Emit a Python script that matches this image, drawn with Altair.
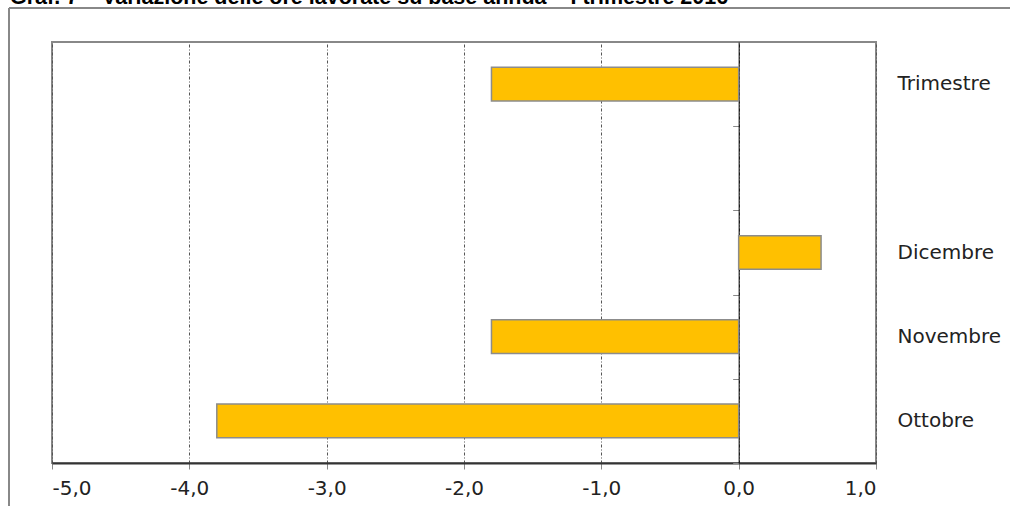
import altair as alt
import pandas as pd

# Data
categories = ["Trimestre", "Dicembre", "Novembre", "Ottobre"]
values = [-1.8, 0.6, -1.8, -3.8]
y_domain = ["Trimestre", " ", "Dicembre", "Novembre", "Ottobre"]
x_ticks = [-5, -4, -3, -2, -1, 0, 1]
title_text = "Graf. 7 \u2013 Variazione delle ore lavorate su base annua \u2013 I trimestre 2016"

df = pd.DataFrame({"cat": categories, "value": values})

W, H = 824, 421
XMIN, XMAX = -5, 1
P_INNER = 0.6
LABEL_FONT = "DejaVu Sans"

x_scale = alt.Scale(domain=[XMIN, XMAX], nice=False, zero=False)
y_scale = alt.Scale(domain=y_domain, paddingInner=P_INNER, paddingOuter=P_INNER / 2)

x_axis = alt.Axis(
    values=x_ticks,
    title=None,
    labelExpr="replace(replace(format(datum.value, '.1f'), '.', ','), '\u2212', '-')",
    labelFont=LABEL_FONT,
    labelFontSize=20,
    labelColor="#222222",
    labelPadding=9,
    domainColor="#333333",
    domainWidth=2,
    tickColor="#888888",
    tickSize=6,
    grid=True,
    gridColor="#555555",
    gridDash=[3, 2, 1, 2],
    gridWidth=1,
)

right_axis = alt.Axis(
    orient="right",
    title=None,
    ticks=False,
    domain=False,
    labelFont=LABEL_FONT,
    labelFontSize=20,
    labelColor="#222222",
    labelPadding=21,
    labelAlign="left",
)

step = H / len(y_domain)
zero_offset = -W * (0 - XMIN) / (XMAX - XMIN)
zero_axis = alt.Axis(
    orient="left",
    title=None,
    labels=False,
    offset=zero_offset,
    domainColor="#000000",
    domainWidth=1,
    tickColor="#888888",
    tickSize=6,
    tickOffset=step / 2,
    grid=False,
)

bars = alt.Chart(df).mark_bar(
    color="#FFC000", stroke="#8C8C8C", strokeWidth=1.5
).encode(
    x=alt.X("value:Q", scale=x_scale, axis=x_axis),
    y=alt.Y("cat:N", scale=y_scale, axis=right_axis, sort=y_domain),
)

zero_layer = alt.Chart(df).mark_point(opacity=0).encode(
    y=alt.Y("cat:N", scale=y_scale, axis=zero_axis, sort=y_domain),
)

frame_df = pd.DataFrame({"a": [0]})
frame_top = alt.Chart(frame_df).mark_rule(color="#888888", strokeWidth=2).encode(
    x=alt.value(-43), x2=alt.value(1010), y=alt.value(-34)
)
frame_left = alt.Chart(frame_df).mark_rule(color="#888888", strokeWidth=2).encode(
    x=alt.value(-43), y=alt.value(-34), y2=alt.value(470)
)
title = alt.Chart(pd.DataFrame({"t": [title_text]})).mark_text(
    font="Liberation Sans", fontWeight="bold", fontSize=21.5, align="left",
    baseline="alphabetic", color="#000000"
).encode(x=alt.value(-42), y=alt.value(-38.5), text="t:N")

chart = alt.layer(frame_top, frame_left, title, zero_layer, bars).resolve_axis(
    y="independent"
).properties(
    width=W, height=H,
    autosize=alt.AutoSizeParams(type="none"),
    padding={"left": 52, "top": 42, "right": 134, "bottom": 43},
).configure_view(stroke="#888888", strokeWidth=2)

chart.save("out.html", embed_options={"renderer": "svg", "actions": False})
